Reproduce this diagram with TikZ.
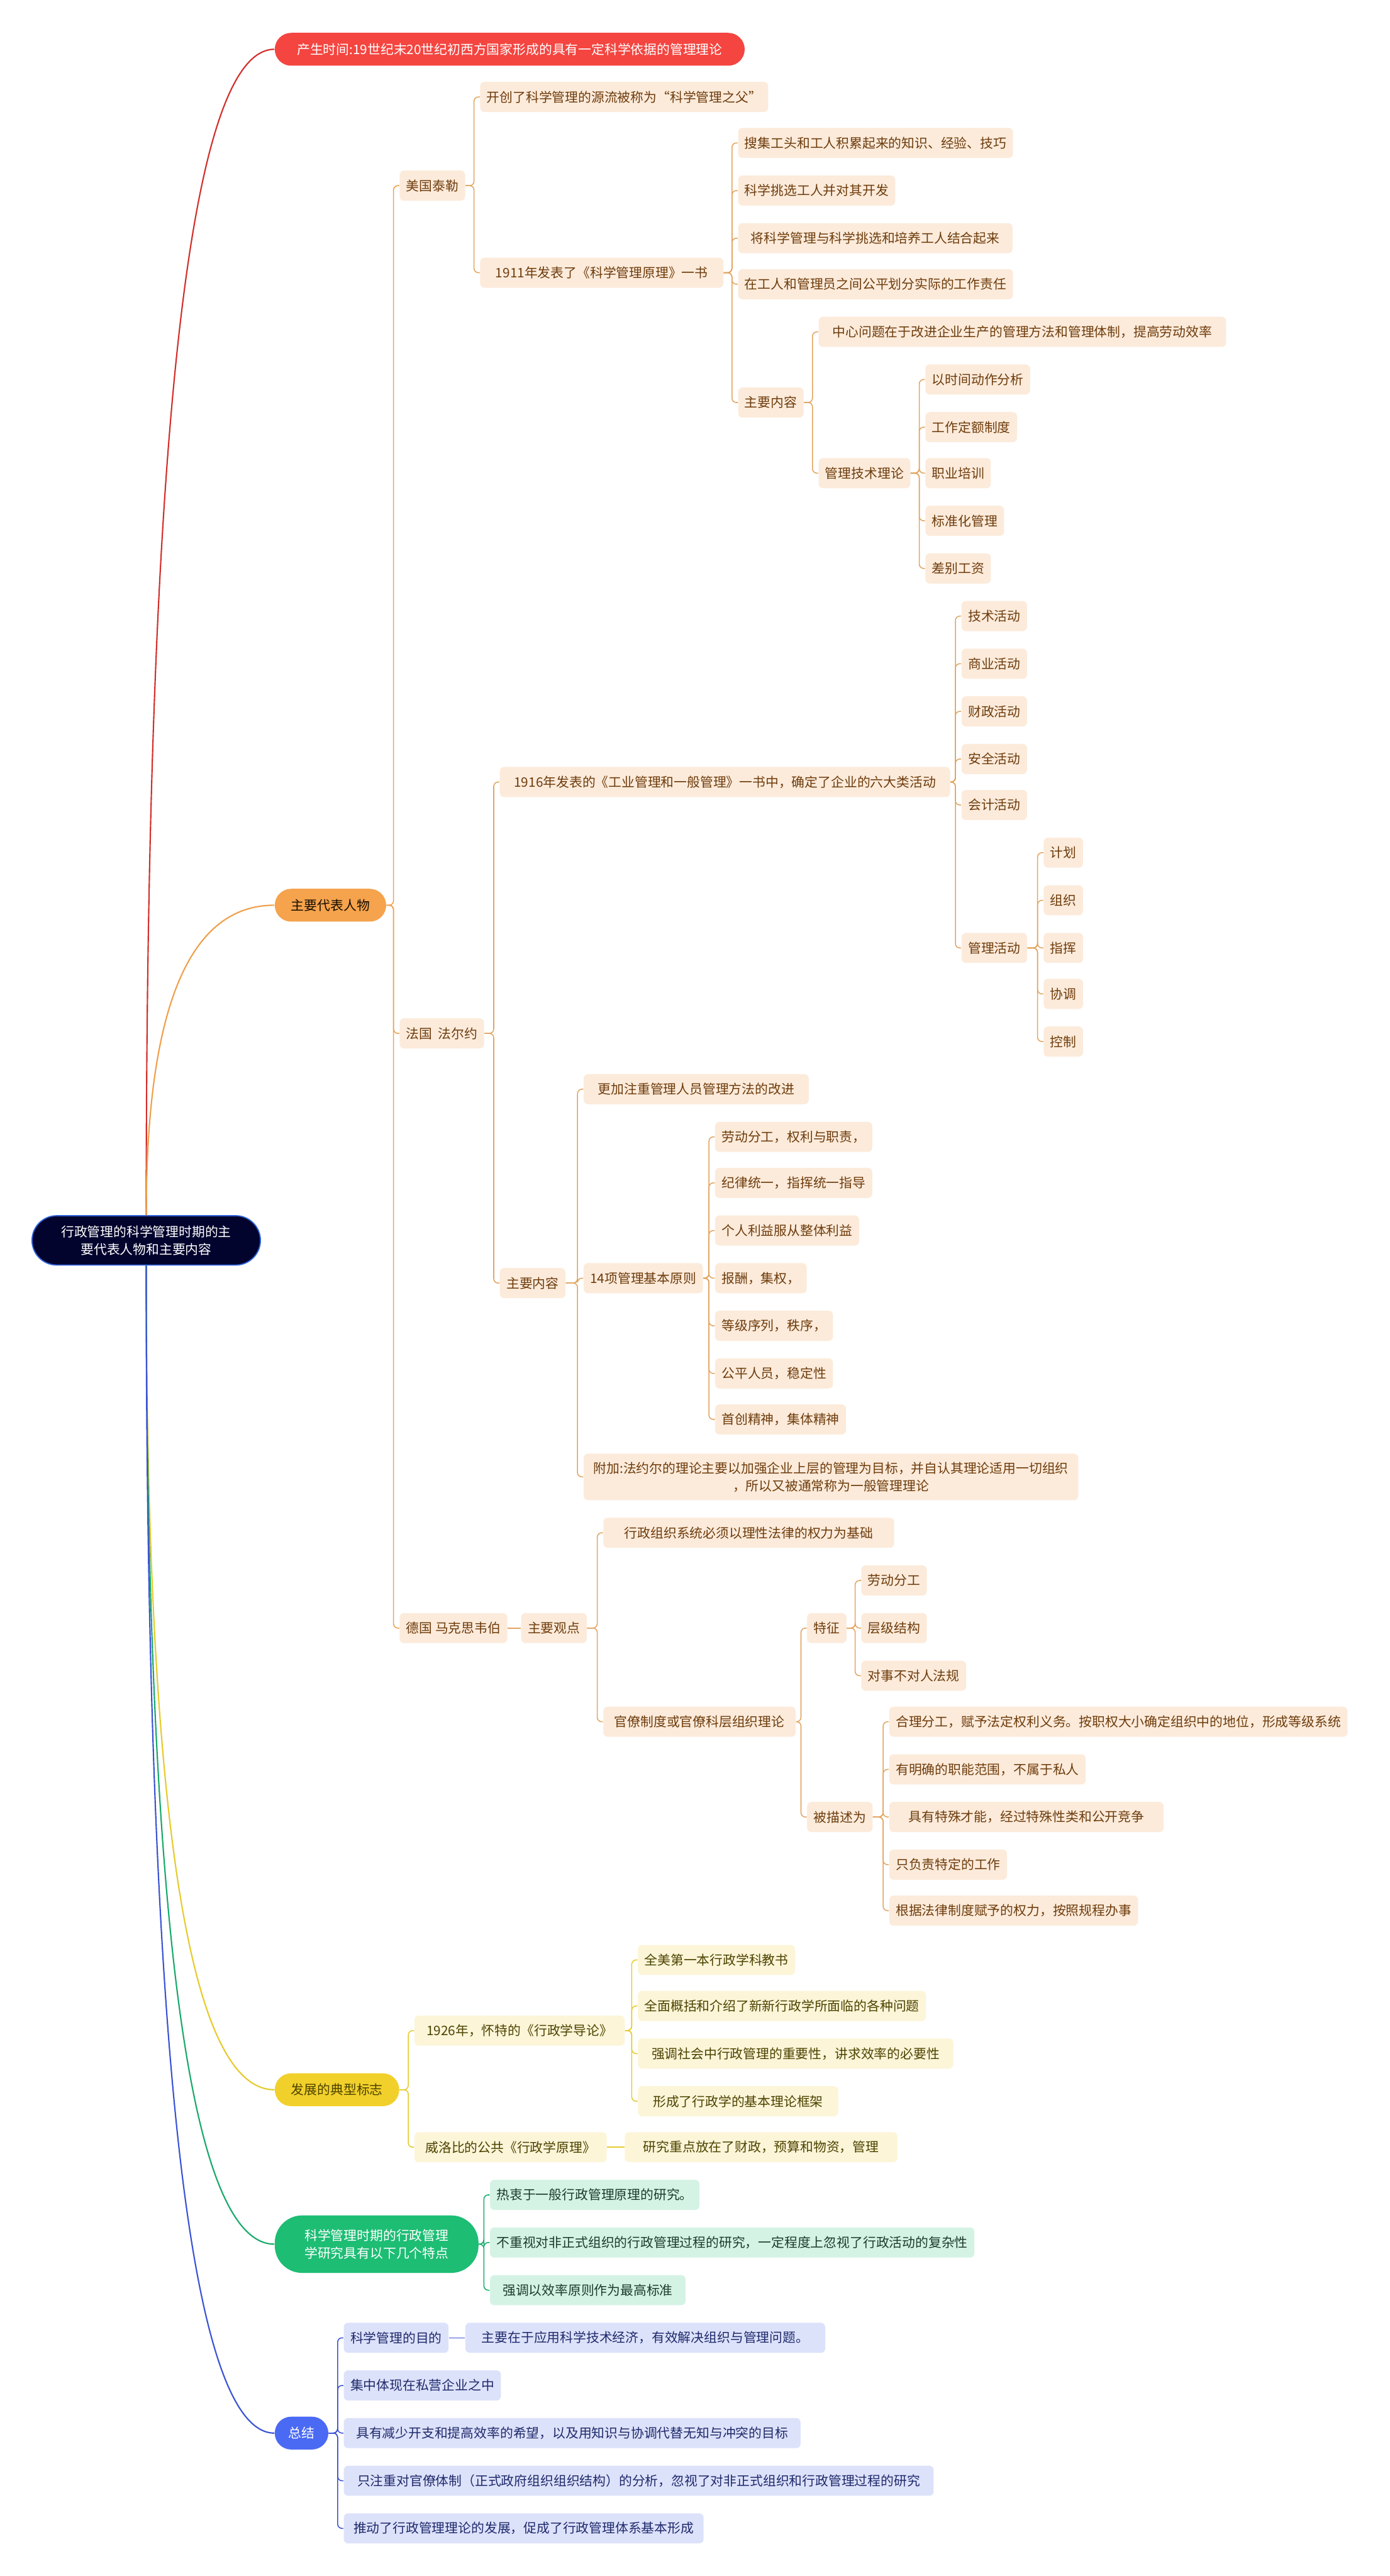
\documentclass[tikz,border=0pt]{standalone}
\usepackage{fontspec}
\setmainfont{Noto Sans CJK SC}
\usepackage{xcolor}
\usetikzlibrary{positioning,calc}

\definecolor{rootfill}{HTML}{03042E}
\definecolor{rootdraw}{HTML}{2E63D8}
\definecolor{redfill}{HTML}{F44540}
\definecolor{redline}{HTML}{D2302C}
\definecolor{orgfill}{HTML}{F5A34D}
\definecolor{orgline}{HTML}{F0A04A}
\definecolor{orgsub}{HTML}{FCEBDB}
\definecolor{orgtext}{HTML}{6E3C0C}
\definecolor{orglink}{HTML}{E2A560}
\definecolor{ylwfill}{HTML}{F1D02B}
\definecolor{ylwline}{HTML}{E6CB2E}
\definecolor{ylwsub}{HTML}{FCF5D8}
\definecolor{ylwtext}{HTML}{4D4300}
\definecolor{grnfill}{HTML}{1DBD74}
\definecolor{grnline}{HTML}{19A96A}
\definecolor{grnsub}{HTML}{D4F3E5}
\definecolor{grntext}{HTML}{1E3B2E}
\definecolor{blufill}{HTML}{4A6AF4}
\definecolor{bluline}{HTML}{3B53D4}
\definecolor{blusub}{HTML}{DDE2FB}
\definecolor{blutext}{HTML}{1F2A6B}

\begin{document}
\begin{tikzpicture}[x=0.03cm, y=-0.03cm,
    every node/.style={font=\fontsize{6.8}{9.2}\selectfont},
    rootbox/.style={fill=rootfill, draw=rootdraw, line width=0.6pt, text=white, rounded corners=0.45cm, minimum width=4.17cm, minimum height=0.9cm, align=center},
    topic/.style={rounded corners=0.3cm, minimum height=0.6cm, inner xsep=0.3cm, inner ysep=0.04cm, anchor=west, align=center},
    leaf/.style={rounded corners=0.08cm, minimum height=0.55cm, inner xsep=0.12cm, inner ysep=0.04cm, anchor=west, align=center},
    orgleaf/.style={leaf, fill=orgsub, text=orgtext},
    ylwleaf/.style={leaf, fill=ylwsub, text=ylwtext},
    grnleaf/.style={leaf, fill=grnsub, text=grntext},
    bluleaf/.style={leaf, fill=blusub, text=blutext},
    link/.style={rounded corners=0.08cm, line width=0.5pt},
    mainlink/.style={line width=0.7pt, to path={.. controls ($(\tikztostart)!0.667!(\tikztostart|-\tikztotarget)$) and ($(\tikztotarget)!0.667!(\tikztostart|-\tikztotarget)$) .. (\tikztotarget)}}
]
\fill[white] (0,0) rectangle (846,1568);
\useasboundingbox (0,0) rectangle (846,1568);

% root and main topics
\node[rootbox] (root) at (89,755) {行政管理的科学管理时期的主\\要代表人物和主要内容};

\node[topic, fill=redfill, text=white, minimum width=8.58cm] (time) at (167,30) {产生时间:19世纪末20世纪初西方国家形成的具有一定科学依据的管理理论};
\node[topic, fill=orgfill, text=black!80!orgtext] (people) at (167,551) {主要代表人物};
\node[topic, fill=ylwfill, text=ylwtext] (mark) at (167,1272) {发展的典型标志};
\node[topic, fill=grnfill, text=white, minimum width=3.72cm, minimum height=1.05cm, rounded corners=0.5cm] (feat) at (167,1366) {科学管理时期的行政管理\\学研究具有以下几个特点};
\node[topic, fill=blufill, text=white, inner xsep=0.25cm] (sum) at (167,1481) {总结};

\draw[mainlink, redline] (root.north) to (time.west);
\draw[mainlink, orgline] (root.north) to (people.west);
\draw[mainlink, ylwline] (root.south) to (mark.west);
\draw[mainlink, grnline] (root.south) to (feat.west);
\draw[mainlink, bluline] (root.south) to (sum.west);

% representatives
\node[orgleaf] (us) at (243,113) {美国泰勒};
\node[orgleaf] (fr) at (243,629) {法国\ \ 法尔约};
\node[orgleaf] (de) at (243,991) {德国 马克思韦伯};
\foreach \c in {us,fr,de} \draw[link, orgline] (\c.west) -- ++(-3.5,0) |- (people.east);

% Taylor
\node[orgleaf] (us1) at (292,59) {开创了科学管理的源流被称为“科学管理之父”};
\node[orgleaf, minimum width=4.44cm] (us2) at (292,166) {1911年发表了《科学管理原理》一书};
\foreach \c in {us1,us2} \draw[link, orglink] (\c.west) -- ++(-3.5,0) |- (us.east);

\node[orgleaf] (us21) at (449,87) {搜集工头和工人积累起来的知识、经验、技巧};
\node[orgleaf] (us22) at (449,116) {科学挑选工人并对其开发};
\node[orgleaf, minimum width=5.01cm] (us23) at (449,145) {将科学管理与科学挑选和培养工人结合起来};
\node[orgleaf] (us24) at (449,173) {在工人和管理员之间公平划分实际的工作责任};
\node[orgleaf] (us25) at (449,245) {主要内容};
\foreach \c in {us21,us22,us23,us24,us25} \draw[link, orglink] (\c.west) -- ++(-3.5,0) |- (us2.east);

\node[orgleaf, minimum width=7.44cm] (us251) at (498,202) {中心问题在于改进企业生产的管理方法和管理体制，提高劳动效率};
\node[orgleaf] (us252) at (498,288) {管理技术理论};
\foreach \c in {us251,us252} \draw[link, orglink] (\c.west) -- ++(-3.5,0) |- (us25.east);

\node[orgleaf] (tq1) at (563,231) {以时间动作分析};
\node[orgleaf] (tq2) at (563,260) {工作定额制度};
\node[orgleaf] (tq3) at (563,288) {职业培训};
\node[orgleaf] (tq4) at (563,317) {标准化管理};
\node[orgleaf] (tq5) at (563,346) {差别工资};
\foreach \c in {tq1,tq2,tq3,tq4,tq5} \draw[link, orglink] (\c.west) -- ++(-3.5,0) |- (us252.east);

% Fayol
\node[orgleaf, minimum width=8.22cm] (fr1) at (304,476) {1916年发表的《工业管理和一般管理》一书中，确定了企业的六大类活动};
\node[orgleaf] (fr2) at (304,781) {主要内容};
\foreach \c in {fr1,fr2} \draw[link, orglink] (\c.west) -- ++(-3.5,0) |- (fr.east);

\node[orgleaf] (act1) at (585,375) {技术活动};
\node[orgleaf] (act2) at (585,404) {商业活动};
\node[orgleaf] (act3) at (585,433) {财政活动};
\node[orgleaf] (act4) at (585,462) {安全活动};
\node[orgleaf] (act5) at (585,490) {会计活动};
\node[orgleaf] (act6) at (585,577) {管理活动};
\foreach \c in {act1,act2,act3,act4,act5,act6} \draw[link, orglink] (\c.west) -- ++(-3.5,0) |- (fr1.east);

\node[orgleaf] (mg1) at (635,519) {计划};
\node[orgleaf] (mg2) at (635,548) {组织};
\node[orgleaf] (mg3) at (635,577) {指挥};
\node[orgleaf] (mg4) at (635,605) {协调};
\node[orgleaf] (mg5) at (635,634) {控制};
\foreach \c in {mg1,mg2,mg3,mg4,mg5} \draw[link, orglink] (\c.west) -- ++(-3.5,0) |- (act6.east);

\node[orgleaf, minimum width=4.11cm] (fr21) at (355,663) {更加注重管理人员管理方法的改进};
\node[orgleaf] (fr22) at (355,778) {14项管理基本原则};
\node[orgleaf, minimum width=9.03cm, minimum height=0.85cm] (fr23) at (355,899) {附加:法约尔的理论主要以加强企业上层的管理为目标，并自认其理论适用一切组织\\，所以又被通常称为一般管理理论};
\foreach \c in {fr21,fr22,fr23} \draw[link, orglink] (\c.west) -- ++(-3.5,0) |- (fr2.east);

\node[orgleaf] (pr1) at (435,692) {劳动分工，权利与职责，};
\node[orgleaf] (pr2) at (435,720) {纪律统一，指挥统一指导};
\node[orgleaf] (pr3) at (435,749) {个人利益服从整体利益};
\node[orgleaf] (pr4) at (435,778) {报酬，集权，};
\node[orgleaf] (pr5) at (435,807) {等级序列，秩序，};
\node[orgleaf] (pr6) at (435,836) {公平人员，稳定性};
\node[orgleaf] (pr7) at (435,864) {首创精神，集体精神};
\foreach \c in {pr1,pr2,pr3,pr4,pr5,pr6,pr7} \draw[link, orglink] (\c.west) -- ++(-3.5,0) |- (fr22.east);

% Weber
\node[orgleaf] (de1) at (317,991) {主要观点};
\draw[link, orglink] (de1.west) -- (de.east);

\node[orgleaf, minimum width=5.31cm] (de11) at (367,933) {行政组织系统必须以理性法律的权力为基础};
\node[orgleaf, minimum width=3.51cm] (de12) at (367,1048) {官僚制度或官僚科层组织理论};
\foreach \c in {de11,de12} \draw[link, orglink] (\c.west) -- ++(-3.5,0) |- (de1.east);

\node[orgleaf] (de121) at (491,991) {特征};
\node[orgleaf] (de122) at (491,1106) {被描述为};
\foreach \c in {de121,de122} \draw[link, orglink] (\c.west) -- ++(-3.5,0) |- (de12.east);

\node[orgleaf] (ch1) at (524,962) {劳动分工};
\node[orgleaf] (ch2) at (524,991) {层级结构};
\node[orgleaf] (ch3) at (524,1020) {对事不对人法规};
\foreach \c in {ch1,ch2,ch3} \draw[link, orglink] (\c.west) -- ++(-3.5,0) |- (de121.east);

\node[orgleaf] (ds1) at (541,1048) {合理分工，赋予法定权利义务。按职权大小确定组织中的地位，形成等级系统};
\node[orgleaf] (ds2) at (541,1077) {有明确的职能范围，不属于私人};
\node[orgleaf, minimum width=5.01cm] (ds3) at (541,1106) {具有特殊才能，经过特殊性类和公开竞争};
\node[orgleaf] (ds4) at (541,1135) {只负责特定的工作};
\node[orgleaf] (ds5) at (541,1163) {根据法律制度赋予的权力，按照规程办事};
\foreach \c in {ds1,ds2,ds3,ds4,ds5} \draw[link, orglink] (\c.west) -- ++(-3.5,0) |- (de122.east);

% milestones
\node[ylwleaf, minimum width=3.84cm] (y1) at (252,1236) {1926年，怀特的《行政学导论》};
\node[ylwleaf, minimum width=3.51cm] (y2) at (252,1307) {威洛比的公共《行政学原理》};
\foreach \c in {y1,y2} \draw[link, ylwline] (\c.west) -- ++(-3.5,0) |- (mark.east);

\node[ylwleaf] (y11) at (388,1193) {全美第一本行政学科教书};
\node[ylwleaf] (y12) at (388,1221) {全面概括和介绍了新新行政学所面临的各种问题};
\node[ylwleaf, minimum width=5.76cm] (y13) at (388,1250) {强调社会中行政管理的重要性，讲求效率的必要性};
\node[ylwleaf, minimum width=3.66cm] (y14) at (388,1279) {形成了行政学的基本理论框架};
\foreach \c in {y11,y12,y13,y14} \draw[link, ylwline] (\c.west) -- ++(-3.5,0) |- (y1.east);

\node[ylwleaf, minimum width=4.98cm] (y21) at (380,1307) {研究重点放在了财政，预算和物资，管理};
\draw[link, ylwline] (y21.west) -- (y2.east);

% features
\node[grnleaf] (g1) at (298,1336) {热衷于一般行政管理原理的研究。};
\node[grnleaf] (g2) at (298,1365) {不重视对非正式组织的行政管理过程的研究，一定程度上忽视了行政活动的复杂性};
\node[grnleaf, minimum width=3.57cm] (g3) at (298,1394) {强调以效率原则作为最高标准};
\foreach \c in {g1,g2,g3} \draw[link, grnline] (\c.west) -- ++(-3.5,0) |- (feat.east);

% summary
\node[bluleaf] (b1) at (209,1423) {科学管理的目的};
\node[bluleaf, minimum width=6.57cm] (b11) at (283,1423) {主要在于应用科学技术经济，有效解决组织与管理问题。};
\node[bluleaf] (b2) at (209,1452) {集中体现在私营企业之中};
\node[bluleaf, minimum width=8.34cm] (b3) at (209,1481) {具有减少开支和提高效率的希望，以及用知识与协调代替无知与冲突的目标};
\node[bluleaf, minimum width=10.77cm] (b4) at (209,1510) {只注重对官僚体制（正式政府组织组织结构）的分析，忽视了对非正式组织和行政管理过程的研究};
\node[bluleaf, minimum width=6.57cm] (b5) at (209,1539) {推动了行政管理理论的发展，促成了行政管理体系基本形成};
\foreach \c in {b1,b2,b3,b4,b5} \draw[link, bluline] (\c.west) -- ++(-3.5,0) |- (sum.east);
\draw[link, bluline] (b11.west) -- (b1.east);
\end{tikzpicture}
\end{document}
